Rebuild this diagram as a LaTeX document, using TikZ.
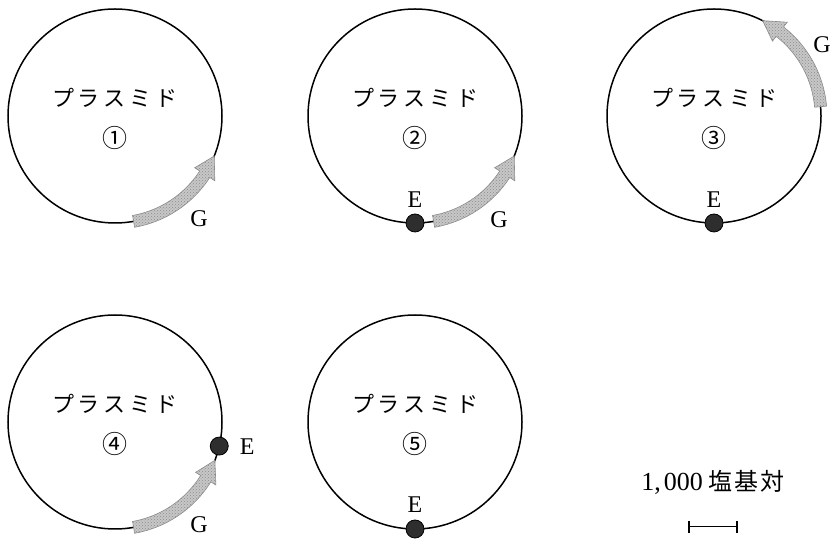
\documentclass[tikz,border=0pt]{standalone}
\usepackage{fontspec}
\usetikzlibrary{calc,patterns}
\setmainfont{Liberation Serif}
\newfontfamily\cjk{Noto Sans CJK JP}
\newcommand\plasmidtext{{\cjk\fontsize{22}{22}\selectfont プ\kern4pt ラ\kern4pt ス\kern4pt ミ\kern4pt ド}}
\tikzset{
  ring/.style={circle, draw, line width=1.5pt, minimum size=214pt, inner sep=0pt},
  arrowfill/.style={fill=black!22, draw=black!45, line width=0.6pt,
    postaction={pattern=crosshatch dots, pattern color=black!45}},
  edot/.style={circle, fill=black!82, draw=black, line width=0.8pt, minimum size=18pt, inner sep=0pt},
  lbl/.style={font=\fontsize{24}{24}\selectfont, inner sep=0pt},
  pname/.style={inner sep=0pt},
  pnum/.style={font=\cjk\fontsize{25}{25}\selectfont, inner sep=0pt},
}
\newcommand\garrow[3]{%
  \begin{scope}[shift={(#1.center)}]
    \pgfmathsetmacro\hbase{#3-11}
    \filldraw[arrowfill] (#2:101) arc[start angle=#2, end angle=\hbase, radius=101]
      -- (\hbase:95) -- (#3:107) -- (\hbase:119) -- (\hbase:113)
      arc[start angle=\hbase, end angle=#2, radius=113] -- cycle;
  \end{scope}}
\begin{document}
\begin{tikzpicture}[x=1pt,y=1pt]
\useasboundingbox (0,0) rectangle (834,545);
% circles
\node[ring] (p1) at (115,429) {};
\node[ring] (p2) at (415,429) {};
\node[ring] (p3) at (714,429) {};
\node[ring] (p4) at (115,123) {};
\node[ring] (p5) at (415,123) {};
% titles and numbers
\foreach \i/\n in {1/①,2/②,3/③,4/④,5/⑤}{
  \node[pname] (t\i) at ($(p\i.center)+(0,18)$) {\plasmidtext};
  \node[pnum] (n\i) at ($(p\i.center)+(0,-22)$) {\n};
}
% G arrows
\garrow{p1}{-80}{-22}
\garrow{p2}{-80}{-22}
\garrow{p3}{5}{63}
\garrow{p4}{-80}{-21}
\node[lbl] (g1) at ($(p1.center)+(84,-103)$) {G};
\node[lbl] (g2) at ($(p2.center)+(84,-104)$) {G};
\node[lbl] (g3) at ($(p3.center)+(108,71)$) {G};
\node[lbl] (g4) at ($(p4.center)+(84,-103)$) {G};
% E sites
\node[edot] (e2) at ($(p2.center)+(-90:107)$) {};
\node[edot] (e3) at ($(p3.center)+(-90:107)$) {};
\node[edot] (e4) at ($(p4.center)+(-13:107)$) {};
\node[edot] (e5) at ($(p5.center)+(-90:107)$) {};
\node[lbl] (el2) at ($(e2.center)+(0,23)$) {E};
\node[lbl] (el3) at ($(e3.center)+(0,23)$) {E};
\node[lbl] (el4) at ($(e4.center)+(28,-1)$) {E};
\node[lbl] (el5) at ($(e5.center)+(0,24)$) {E};
% scale bar
\node[inner sep=0pt] (scl) at (713,63) {{\fontsize{26}{26}\selectfont 1,\kern3pt 000}\kern6pt{\cjk\fontsize{24}{24}\selectfont 塩\kern2pt 基\kern2pt 対}};
\coordinate (sa) at (689,18);
\coordinate (sb) at (737,18);
\draw[line width=1pt] (sa) -- (sb);
\draw[line width=1.3pt] ($(sa)+(0,6)$) -- ($(sa)+(0,-6)$);
\draw[line width=1.3pt] ($(sb)+(0,6)$) -- ($(sb)+(0,-6)$);
\end{tikzpicture}
\end{document}
